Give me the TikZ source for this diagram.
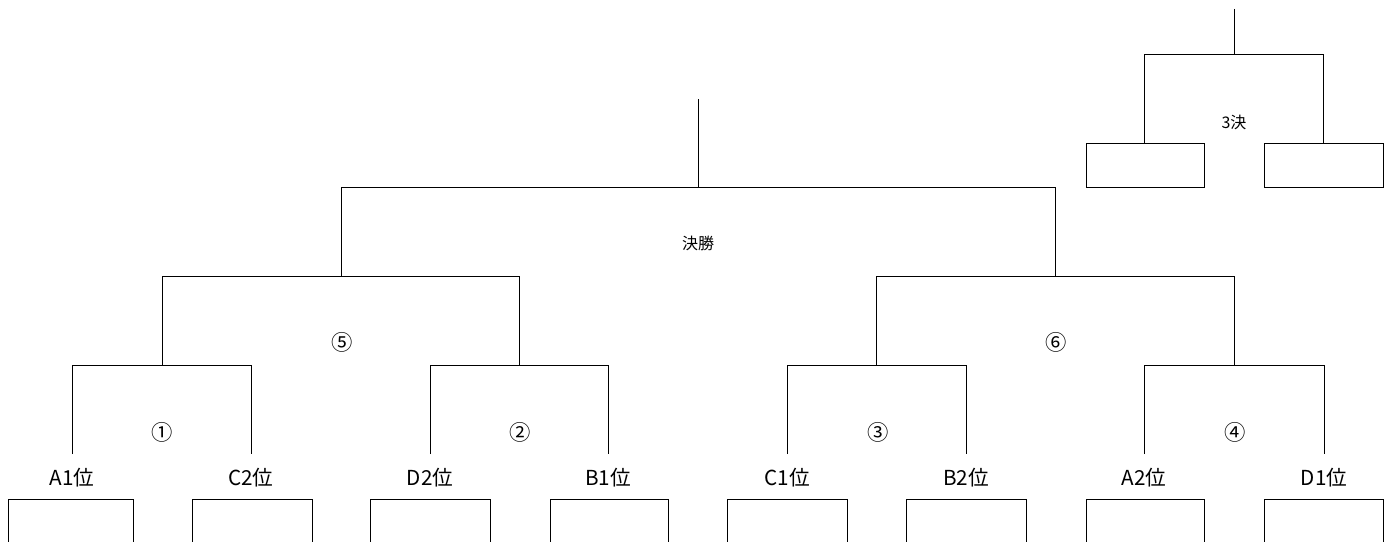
\documentclass[tikz,border=0pt]{standalone}
\usepackage{fontspec}
\setmainfont{Noto Sans CJK JP}
\begin{document}
\begin{tikzpicture}[x=0.75pt,y=-0.75pt,
  ln/.style={line width=0.6pt,black},
  lbl/.style={font=\fontsize{15.5}{15.5}\selectfont,inner sep=0pt},
  num/.style={font=\fontsize{16}{16}\selectfont,inner sep=0pt},
  ttl/.style={font=\fontsize{12}{12}\selectfont,inner sep=0pt}]
\useasboundingbox (0,0) rectangle (1391,542);
\clip (0,0) rectangle (1391,542);
% leaf coordinates
\foreach \n/\x in {1/72,2/251,3/430,4/608,5/787,6/966,7/1144,8/1324}{
  \coordinate (t\n) at (\x,365);
  \coordinate (b\n) at (\x,454);
}
% quarter coordinates
\foreach \n/\x in {1/162,2/519,3/876,4/1234}{
  \coordinate (qt\n) at (\x,276);
  \coordinate (qb\n) at (\x,365);
}
\coordinate (st1) at (341,187);
\coordinate (sb1) at (341,276);
\coordinate (st2) at (1055,187);
\coordinate (sb2) at (1055,276);
\coordinate (ft) at (698,99);
\coordinate (fb) at (698,187);
% leaf brackets
\draw[ln] (b1) -- (t1) -- (t2) -- (b2);
\draw[ln] (b3) -- (t3) -- (t4) -- (b4);
\draw[ln] (b5) -- (t5) -- (t6) -- (b6);
\draw[ln] (b7) -- (t7) -- (t8) -- (b8);
% quarter verticals
\foreach \n in {1,2,3,4}{\draw[ln] (qt\n) -- (qb\n);}
% semi brackets
\draw[ln] (qt1) -- (qt2);
\draw[ln] (qt3) -- (qt4);
\draw[ln] (st1) -- (sb1);
\draw[ln] (st2) -- (sb2);
\draw[ln] (st1) -- (st2);
\draw[ln] (ft) -- (fb);
% bottom boxes (open at the bottom edge)
\foreach \n/\a/\b in {1/8/133,2/192/312,3/370/490,4/550/668,5/727/847,6/906/1026,7/1086/1204,8/1264/1383}{
  \draw[ln] (\a,546) -- (\a,499) -- (\b,499) -- (\b,546);
}
% labels
\node[lbl] (l1) at (72,478) {A1位};
\node[lbl] (l2) at (251,478) {C2位};
\node[lbl] (l3) at (430,478) {D2位};
\node[lbl] (l4) at (608,478) {B1位};
\node[lbl] (l5) at (787,478) {C1位};
\node[lbl] (l6) at (966,478) {B2位};
\node[lbl] (l7) at (1144,478) {A2位};
\node[lbl] (l8) at (1324,478) {D1位};
\node[num] (m1) at (162,432) {①};
\node[num] (m2) at (520,432) {②};
\node[num] (m3) at (878,432) {③};
\node[num] (m4) at (1235,432) {④};
\node[num] (m5) at (342,342) {⑤};
\node[num] (m6) at (1056,342) {⑥};
\node[ttl] (fin) at (698,243) {決勝};
% third place
\coordinate (tt) at (1234,9);
\coordinate (tm) at (1234,54);
\coordinate (tl) at (1144,54);
\coordinate (tr) at (1323,54);
\node[draw,ln,minimum width=118*0.75pt,minimum height=44*0.75pt,inner sep=0pt,anchor=north west] (tb1) at (1086,143) {};
\node[draw,ln,minimum width=119*0.75pt,minimum height=44*0.75pt,inner sep=0pt,anchor=north west] (tb2) at (1264,143) {};
\draw[ln] (tt) -- (tm);
\draw[ln] (tb1.north -| tl) -- (tl) -- (tr) -- (tb2.north -| tr);
\node[ttl] (third) at (1234,122) {3決};
\end{tikzpicture}
\end{document}
